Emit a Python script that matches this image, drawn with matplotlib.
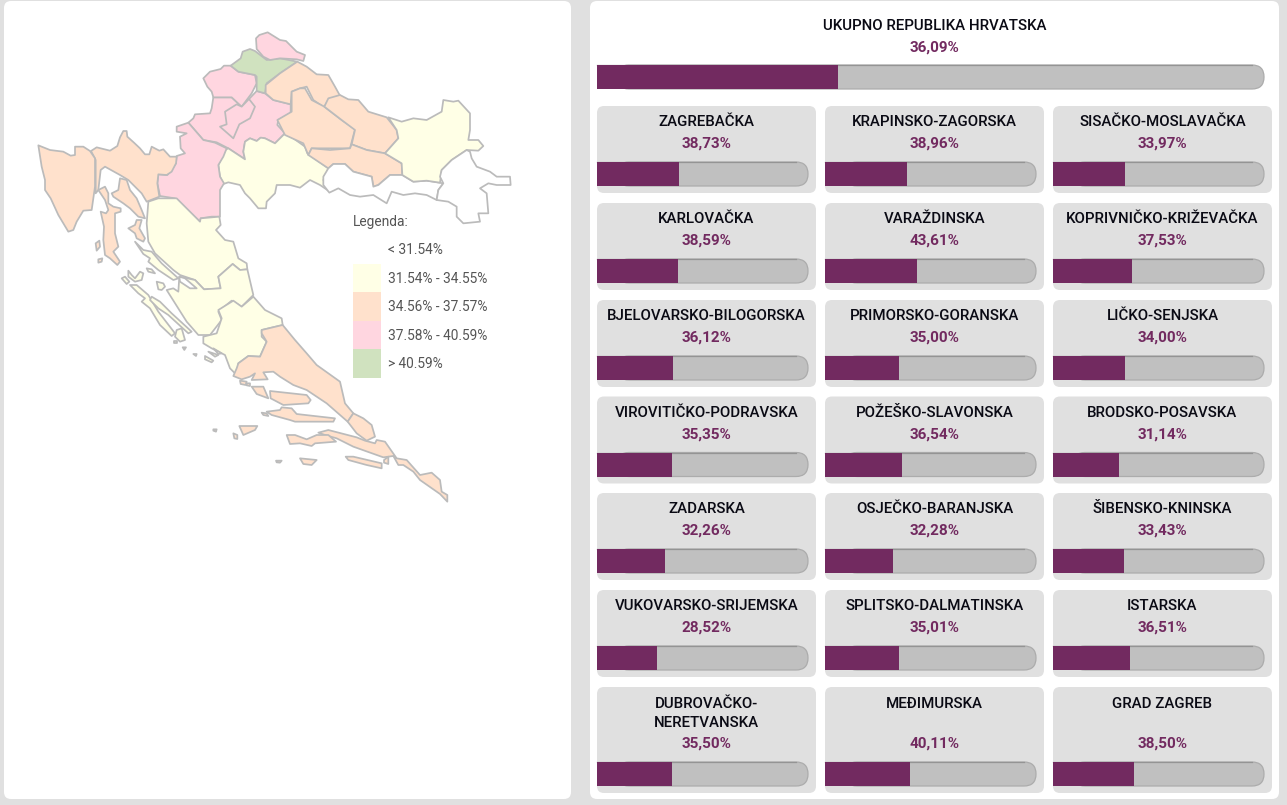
import matplotlib
matplotlib.use("Agg")
import matplotlib.pyplot as plt
from matplotlib.patches import FancyBboxPatch, Polygon, Rectangle

plt.rcParams['font.family'] = ['Roboto', 'DejaVu Sans']

# Podaci
ukupno_naziv = "UKUPNO REPUBLIKA HRVATSKA"
ukupno = 36.09

zupanije = ["ZAGREBAČKA", "KRAPINSKO-ZAGORSKA", "SISAČKO-MOSLAVAČKA",
            "KARLOVAČKA", "VARAŽDINSKA", "KOPRIVNIČKO-KRIŽEVAČKA",
            "BJELOVARSKO-BILOGORSKA", "PRIMORSKO-GORANSKA", "LIČKO-SENJSKA",
            "VIROVITIČKO-PODRAVSKA", "POŽEŠKO-SLAVONSKA", "BRODSKO-POSAVSKA",
            "ZADARSKA", "OSJEČKO-BARANJSKA", "ŠIBENSKO-KNINSKA",
            "VUKOVARSKO-SRIJEMSKA", "SPLITSKO-DALMATINSKA", "ISTARSKA",
            "DUBROVAČKO-\nNERETVANSKA", "MEĐIMURSKA", "GRAD ZAGREB"]
postoci = [38.73, 38.96, 33.97,
           38.59, 43.61, 37.53,
           36.12, 35.00, 34.00,
           35.35, 36.54, 31.14,
           32.26, 32.28, 33.43,
           28.52, 35.01, 36.51,
           35.50, 40.11, 38.50]

legenda_tekst = ["< 31.54%", "31.54% - 34.55%", "34.56% - 37.57%", "37.58% - 40.59%", "> 40.59%"]
legenda_boje = ["#ffffff", "#ffffe6", "#ffe1cc", "#ffd6e0", "#d0e2bf"]
granice = [31.54, 34.555, 37.575, 40.59]

# Obrisi zupanija, ocitani s povecanih isjecaka: (x0, y0, tocke)
istarska = [(30, 20, [(25,376),(60,390),(100,395),(122,407),(135,405),(135,380),(160,380),(180,393),(195,415),(195,500),(185,570),(160,572),(140,605),(130,630),(115,635),(85,585),(62,535),(45,510),(45,480),(35,440)])]
primorska = [(30, 20, [(183,393),(200,382),(240,392),(262,378),(270,352),(280,333),(290,333),(292,350),(312,368),(330,385),(345,403),(358,403),(365,380),(388,392),(400,388),(420,410),(440,410),(438,430),(425,455),(410,465),(385,463),(382,490),(388,530),(350,545),(335,520),(295,480),(270,465),(225,440),(212,450),(205,510),(197,520),(197,420)]),
             (30, 20, [(270,475),(290,480),(300,510),(320,535),(335,570),(345,595),(325,590),(300,565),(280,550),(250,530),(245,520),(265,510)]),
             (30, 20, [(205,510),(225,500),(235,520),(235,550),(250,560),(272,565),(272,575),(255,580),(255,640),(265,680),(250,695),(270,725),(262,735),(240,715),(225,705),(220,660),(222,620),(212,575),(228,580),(235,570),(225,540)]),
             (30, 20, [(197,670),(208,662),(210,680),(200,692)]),
             (30, 20, [(205,718),(217,715),(215,725),(205,728)]),
             (30, 20, [(295,625),(315,615),(320,600),(335,600),(328,625),(345,655),(340,665),(320,655),(315,640)])]
karlovacka = [(30, 20, [(440,320),(475,308),(520,360),(555,368),(590,385),(580,410),(565,435),(570,470),(582,490),(570,510),(570,590),(545,590),(512,595),(510,605),(435,535),(390,528),(382,490),(385,463),(412,465),(438,430),(440,408),(465,400),(452,385),(450,350),(470,340),(440,335)])]
zagrebacka = [(200, 25, [(-35,293),(-20,280),(-15,268),(30,265),(35,250),(40,217),(95,217),(125,245),(147,222),(170,198),(195,205),(220,225),(272,238),(272,265),(235,285),(232,300),(255,325),(225,355),(195,340),(182,338),(170,348),(150,340),(135,350),(130,380),(135,403),(85,370),(50,352),(10,345)])]
grad_zagreb = [(200, 25, [(75,260),(110,238),(125,245),(147,222),(165,245),(150,280),(118,298),(100,340),(60,305),(80,298)])]
krapinska = [(200, 25, [(10,160),(30,140),(62,132),(72,122),(92,122),(115,140),(165,150),(170,175),(155,205),(125,245),(95,217),(40,217),(35,200),(22,185)])]
varazdinska = [(200, 25, [(92,122),(122,100),(128,80),(150,72),(165,78),(200,105),(240,100),(292,110),(240,145),(200,175),(195,205),(170,198),(170,155),(165,150),(115,140)])]
medimurska = [(200, 25, [(168,40),(178,30),(203,22),(240,45),(258,48),(290,80),(315,90),(310,108),(290,103),(240,100),(210,105),(190,95),(170,72)])]
koprivnicka = [(200, 25, [(197,180),(240,145),(292,110),(320,125),(350,148),(385,150),(405,185),(420,212),(385,225),(372,247),(340,225),(320,185),(300,190),(275,200),(272,238),(220,225),(197,205)])]
bjelovarska = [(270, 60, [(65,95),(90,85),(105,85),(125,120),(163,140),(215,180),(255,208),(240,265),(190,265),(125,265),(115,285),(100,250),(45,225),(22,180),(65,155)])]
virovitička = [(270, 60, [(163,140),(175,115),(210,105),(235,118),(265,120),(295,155),(350,172),(380,210),(385,235),(345,280),(290,270),(245,253),(255,210),(215,180)])]
pozeska = [(270, 60, [(115,285),(125,265),(180,270),(240,265),(245,253),(290,270),(345,280),(395,310),(397,345),(360,345),(325,375),(310,380),(305,350),(250,335),(225,312),(190,312),(175,325)])]
osjecka = [(270, 60, [(355,172),(395,185),(430,175),(470,180),(515,155),(520,120),(550,125),(565,122),(600,160),(600,210),(595,240),(625,240),(640,258),(625,272),(590,270),(545,300),(515,330),(510,368),(470,362),(430,365),(397,345),(395,310),(345,280),(385,235),(380,210)])]
brodska = [(270, 60, [(160,350),(175,325),(190,312),(225,312),(250,335),(305,350),(310,380),(325,375),(360,345),(397,345),(430,365),(470,362),(520,370),(505,390),(500,420),(470,405),(435,400),(400,405),(365,395),(350,430),(310,405),(270,410),(240,405),(205,385),(178,398),(160,375)])]
vukovarska = [(270, 60, [(520,370),(510,350),(515,330),(545,300),(590,270),(600,275),(605,295),(620,320),(660,335),(680,350),(720,350),(722,375),(680,375),(655,370),(630,385),(650,400),(655,460),(625,460),(630,485),(580,490),(560,470),(560,440),(535,425),(500,420),(505,390)])]
sisacka = [(200, 25, [(55,420),(75,375),(85,370),(135,403),(130,380),(135,350),(150,340),(170,348),(182,338),(195,340),(225,355),(255,325),(280,340),(315,365),(322,385),(385,430),(370,465),(385,497),(360,480),(330,465),(300,488),(270,480),(230,480),(225,505),(200,530),(198,550),(175,550),(150,520),(135,505),(120,480),(85,472),(70,477),(60,455)])]
licka = [(130, 180, [(55,65),(85,55),(140,55),(210,125),(212,115),(268,110),(272,135),(258,150),(285,180),(310,185),(325,235),(350,250),(352,268),(330,270),(308,252),(265,290),(272,325),(222,328),(195,300),(150,285),(130,270),(75,220),(55,185),(50,130)]),
         (90, 230, [(135,35),(160,60),(185,65),(215,100),(265,145),(250,150),(205,120),(175,95),(180,85),(160,72)])]
zadarska = [(130, 180, [(148,290),(195,300),(222,328),(272,325),(265,290),(308,252),(330,270),(352,268),(370,345),(335,380),(305,362),(265,395),(275,420),(240,465),(205,465),(170,425),(110,330),(130,325),(145,335)]),
            (90, 230, [(170,115),(185,118),(195,130),(175,125)]),
            (90, 230, [(115,122),(125,135),(135,145),(150,125),(160,130),(155,150),(135,155),(115,140)]),
            (90, 230, [(95,145),(105,140),(118,155),(110,162)]),
            (90, 230, [(120,165),(140,165),(175,195),(205,245),(255,310),(245,318),(210,285),(180,235),(155,215),(165,205),(145,190)]),
            (90, 230, [(185,200),(210,215),(245,250),(305,305),(295,310),(235,255),(205,235),(180,210)]),
            (90, 230, [(200,155),(220,160),(225,170),(215,180),(205,178)]),
            (90, 230, [(260,300),(275,295),(285,330),(270,335),(255,320)])]
sibenska = [(90, 230, [(340,320),(380,310),(395,265),(385,240),(430,212),(455,230),(490,200),(525,240),(575,265),(578,285),(515,300),(515,320),(530,335),(510,380),(475,378),(445,400),(440,435),(420,415),(405,375),(365,355),(340,340)]),
            (90, 230, [(252,332),(262,332),(262,340),(252,340)]),
            (90, 230, [(278,352),(288,352),(283,360)]),
            (90, 230, [(310,372),(320,372),(318,378)]),
            (90, 230, [(345,378),(370,392),(365,397),(345,388)]),
            (90, 230, [(355,365),(385,375),(375,380)]),
            (90, 230, [(370,355),(395,370),(385,372)])]
splitska = [(200, 340, [(185,-30),(248,-45),(285,0),(320,40),(350,75),(420,125),(435,190),(460,220),(443,245),(380,190),(320,150),(280,135),(240,110),(220,95),(190,97),(203,118),(155,120),(165,100),(150,110),(125,118),(100,108),(110,85),(115,70),(145,48),(180,50),(200,5),(185,-20)]),
            (200, 340, [(120,122),(140,125),(137,135),(122,132)]),
            (200, 340, [(140,130),(150,130),(150,138),(140,136)]),
            (200, 340, [(155,140),(190,140),(205,175),(170,162)]),
            (200, 340, [(210,153),(320,165),(332,180),(325,190),(250,195),(212,175)]),
            (200, 340, [(200,215),(240,210),(245,202),(275,205),(290,222),(405,235),(400,245),(285,245),(270,240),(215,225)]),
            (200, 340, [(185,218),(200,220),(205,228),(190,225)]),
            (200, 340, [(118,258),(172,258),(165,270),(130,285)]),
            (200, 340, [(100,280),(112,285),(112,297),(103,295)]),
            (200, 340, [(40,268),(50,268),(48,275),(40,272)])]
dubrovacka = [(200, 340, [(355,278),(385,270),(470,292),(495,302),(525,310),(530,300),(555,305),(590,355),(620,360),(660,405),(695,398),(720,420),(725,455),(742,465),(742,485),(720,462),(660,420),(640,395),(610,375),(595,375),(580,348),(550,352),(460,320),(410,295),(375,285)]),
              (200, 340, [(443,245),(460,220),(490,235),(515,255),(525,290),(500,302),(470,280)]),
              (200, 340, [(437,350),(460,350),(545,370),(545,385),(500,375),(445,360)]),
              (200, 340, [(552,360),(565,350),(565,372),(552,368)]),
              (200, 340, [(260,285),(285,285),(320,298),(350,285),(385,285),(408,305),(345,310),(335,318),(300,310),(270,312)]),
              (200, 340, [(300,355),(350,360),(335,375),(310,372)]),
              (200, 340, [(228,362),(245,362),(240,368),(230,367)])]
# zaljev izmedu licke i zadarske
zaljev = [(130, 180, [(148,290),(165,295),(200,325),(180,325),(150,305)])]

karta = [(zagrebacka, 38.73), (krapinska, 38.96), (sisacka, 33.97), (karlovacka, 38.59),
         (varazdinska, 43.61), (koprivnicka, 37.53), (bjelovarska, 36.12), (primorska, 35.00),
         (licka, 34.00), (virovitička, 35.35), (pozeska, 36.54), (brodska, 31.14),
         (zadarska, 32.26), (osjecka, 32.28), (sibenska, 33.43), (vukovarska, 28.52),
         (splitska, 35.01), (istarska, 36.51), (dubrovacka, 35.50), (medimurska, 40.11),
         (grad_zagreb, 38.50), (zaljev, 0)]

SIRINA, VISINA = 1287, 805
LJUBICASTA = "#722a60"
SIVA_KARTICA = "#e0e0e0"
SIVA_TRAKA = "#c0c0c0"
TAMNA = "#0a0a14"
VEL_NAZIV = 10.8
VEL_POSTO = 11.0


def boja_klase(v):
    for g, b in zip(granice, legenda_boje):
        if v < g:
            return b
    return legenda_boje[-1]


def zaobljeno(ax, x, y, w, h, r, boja, **kw):
    ax.add_patch(FancyBboxPatch((x, y), w, h, boxstyle=f"round,pad=0,rounding_size={r}",
                                facecolor=boja, edgecolor="none", **kw))


def traka(ax, x, y, w, h, vrijednost):
    # podloga trake, lijevo ravna, desno zaobljena
    r = h / 2
    ax.add_patch(FancyBboxPatch((x + 20, y), w - 20, h, boxstyle=f"round,pad=0,rounding_size={r}",
                                facecolor=SIVA_TRAKA, edgecolor="#acacac", linewidth=0.9, zorder=2))
    ax.add_patch(Rectangle((x, y), 40, h, facecolor=SIVA_TRAKA, edgecolor="none", zorder=2))
    ax.plot([x, x + w - r], [y + 0.4, y + 0.4], color="#949494", lw=0.9, zorder=2)
    # ispuna ide kroz vlastitu os 0-100
    bx = fig.add_axes([x / SIRINA, 1 - (y + h) / VISINA, w / SIRINA, h / VISINA])
    bx.barh([0], [vrijednost], height=1, left=0, color=LJUBICASTA)
    bx.set_xlim(0, 100)
    bx.set_ylim(-0.5, 0.5)
    bx.axis("off")
    bx.patch.set_alpha(0)


fig = plt.figure(figsize=(SIRINA / 100, VISINA / 100), dpi=100, facecolor=SIVA_KARTICA)
ax = fig.add_axes([0, 0, 1, 1])
ax.set_xlim(0, SIRINA)
ax.set_ylim(VISINA, 0)
ax.axis("off")

# bijele ploce
zaobljeno(ax, 4, 1, 567, 798, 7, "white")
zaobljeno(ax, 590, 1, 689, 798, 7, "white")

# karta
for obris, v in karta:
    for x0, y0, tocke in obris:
        xy = [(x0 + px / 3, y0 + py / 3) for px, py in tocke]
        ax.add_patch(Polygon(xy, closed=True, facecolor=boja_klase(v), edgecolor="#bbbbbb",
                             linewidth=1.25, joinstyle="round", zorder=3))

# legenda
ax.text(353, 221.5, "Legenda:", fontsize=9.9, color="#555555", va="center", ha="left")
for i, (t, b) in enumerate(zip(legenda_tekst, legenda_boje)):
    yc = 249.5 + i * 28.5
    ax.add_patch(Rectangle((353, yc - 14.25), 28, 28.5, facecolor=b, edgecolor="none"))
    ax.text(388, yc + 0.5, t, fontsize=9.9, color="#555555", va="center", ha="left")

# ukupno
ax.text(934.5, 26, ukupno_naziv, fontsize=VEL_NAZIV, fontweight=500, color=TAMNA, ha="center", va="center")
ax.text(934.5, 48, f"{ukupno:.2f}%".replace(".", ","), fontsize=VEL_POSTO, fontweight="bold",
        color=LJUBICASTA, ha="center", va="center")
traka(ax, 597, 65, 667, 24, ukupno)

# kartice zupanija
stupci = [597, 825, 1053]
retci = [106, 203, 300, 396.5, 493, 590, 687]
for i, (naziv, v) in enumerate(zip(zupanije, postoci)):
    x, y = stupci[i % 3], retci[i // 3]
    zadnji = i // 3 == 6
    h = 106 if zadnji else 87
    zaobljeno(ax, x, y, 219, h, 7, SIVA_KARTICA)
    cx = x + 109.5
    if "\n" in naziv:
        dio1, dio2 = naziv.split("\n")
        ax.text(cx, y + 17, dio1, fontsize=VEL_NAZIV, fontweight=500, color=TAMNA, ha="center", va="center")
        ax.text(cx, y + 35.5, dio2, fontsize=VEL_NAZIV, fontweight=500, color=TAMNA, ha="center", va="center")
    else:
        ax.text(cx, y + (17 if zadnji else 16), naziv, fontsize=VEL_NAZIV, fontweight=500, color=TAMNA,
                ha="center", va="center")
    ax.text(cx, y + (57 if zadnji else 38), f"{v:.2f}%".replace(".", ","), fontsize=VEL_POSTO, fontweight="bold",
            color=LJUBICASTA, ha="center", va="center")
    traka(ax, x, y + (75 if zadnji else 56), 211, 24, v)

fig.savefig("out.png", dpi=100, facecolor=fig.get_facecolor())
